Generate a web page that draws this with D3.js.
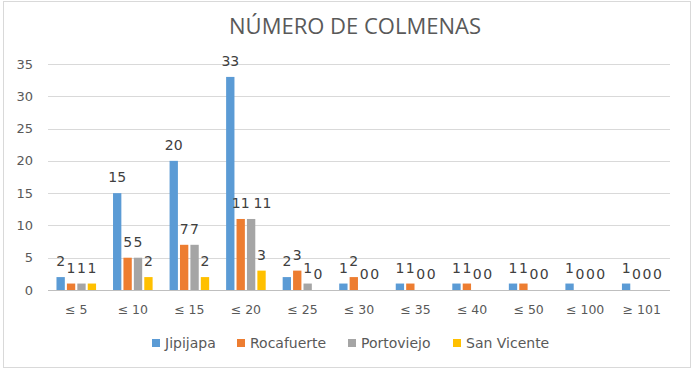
<!DOCTYPE html>
<html>
<head>
<meta charset="utf-8">
<script src="https://cdn.jsdelivr.net/npm/d3@7"></script>
<style>
  body { margin: 0; background: #fff; }
  text { font-family: "DejaVu Sans", Verdana, sans-serif; }
  .title { font-family: "Open Sans", "Liberation Sans", sans-serif; }
</style>
</head>
<body>
<script>
// chart data
const categories = ["≤ 5", "≤ 10", "≤ 15", "≤ 20", "≤ 25", "≤ 30", "≤ 35", "≤ 40", "≤ 50", "≤ 100", "≥ 101"];
const seriesNames = ["Jipijapa", "Rocafuerte", "Portoviejo", "San Vicente"];
const jipijapa   = [2, 15, 20, 33, 2, 1, 1, 1, 1, 1, 1];
const rocafuerte = [1, 5, 7, 11, 3, 2, 1, 1, 1, 0, 0];
const portoviejo = [1, 5, 7, 11, 1, 0, 0, 0, 0, 0, 0];
const sanVicente = [1, 2, 2, 3, 0, 0, 0, 0, 0, 0, 0];
const yTicks = [0, 5, 10, 15, 20, 25, 30, 35];
const colors = ["#5B9BD5", "#ED7D31", "#A5A5A5", "#FFC000"];

const allSeries = [jipijapa, rocafuerte, portoviejo, sanVicente];

var width = 697, height = 369;
var svg = d3.select("body").append("svg")
    .attr("width", width)
    .attr("height", height);

// outer frame
svg.append("rect")
    .attr("x", 3.5).attr("y", 1.5)
    .attr("width", 687).attr("height", 366)
    .attr("fill", "#fff")
    .attr("stroke", "#d9d9d9");

// title
svg.append("text")
    .attr("class", "title")
    .attr("x", 355).attr("y", 34)
    .attr("text-anchor", "middle")
    .attr("font-size", 22)
    .attr("fill", "#595959")
    .text("NÚMERO DE COLMENAS");

var x0 = d3.scaleBand()
    .domain(categories)
    .range([48, 670])
    .paddingInner(0.3)
    .paddingOuter(0.15);

var x1 = d3.scaleBand()
    .domain(d3.range(seriesNames.length))
    .range([0, x0.bandwidth()])
    .paddingInner(0.2);

var y = d3.scaleLinear()
    .domain([0, 35])
    .range([290, 64]);

// gridlines
svg.append("g")
    .selectAll("line")
    .data(yTicks)
    .enter().append("line")
    .attr("x1", 48).attr("x2", 670)
    .attr("y1", d => Math.round(y(d)) + 0.5)
    .attr("y2", d => Math.round(y(d)) + 0.5)
    .attr("stroke", d => d === 0 ? "#bfbfbf" : "#d9d9d9")
    .attr("stroke-width", 1);

// y tick labels
svg.append("g")
    .selectAll("text")
    .data(yTicks)
    .enter().append("text")
    .attr("x", 33)
    .attr("y", d => y(d))
    .attr("dy", "0.35em")
    .attr("text-anchor", "end")
    .attr("font-size", 13)
    .attr("fill", "#595959")
    .text(d => d);

// x labels
svg.append("g")
    .selectAll("text")
    .data(categories)
    .enter().append("text")
    .attr("x", d => x0(d) + x0.bandwidth() / 2)
    .attr("y", 314)
    .attr("text-anchor", "middle")
    .attr("font-size", 12.5)
    .attr("fill", "#595959")
    .text(d => d);

// bars
var groups = svg.append("g")
    .selectAll("g")
    .data(categories)
    .enter().append("g")
    .attr("transform", d => "translate(" + x0(d) + ",0)");

groups.selectAll("rect")
    .data((c, ci) => allSeries.map((s, si) => ({ si: si, v: s[ci] })))
    .enter().append("rect")
    .attr("x", d => x1(d.si))
    .attr("width", x1.bandwidth())
    .attr("y", d => y(d.v))
    .attr("height", d => y(0) - y(d.v))
    .attr("fill", d => colors[d.si]);

// data labels, pushed right when they collide with the previous one
groups.each(function(c, ci) {
    var g = d3.select(this);
    var prev = null;
    allSeries.forEach(function(s, si) {
        var v = s[ci];
        var cx = x1(si) + x1.bandwidth() / 2;
        var by = y(v) - 11;
        var t = g.append("text")
            .attr("y", by)
            .attr("text-anchor", "middle")
            .attr("font-size", 14)
            .attr("fill", "#404040")
            .text(v);
        var w = t.node().getComputedTextLength();
        if (prev && Math.abs(prev.y - by) < 10 && cx - w / 2 < prev.right - 1) {
            cx = prev.right + 4 + w / 2;
        }
        t.attr("x", cx);
        prev = { y: by, right: cx + w / 2 };
    });
});

// legend
var legendX = [152, 237, 348, 453];
var legend = svg.append("g")
    .selectAll("g")
    .data(seriesNames)
    .enter().append("g")
    .attr("transform", (d, i) => "translate(" + legendX[i] + ",343)");

legend.append("rect")
    .attr("x", 0).attr("y", -4)
    .attr("width", 8).attr("height", 8)
    .attr("fill", (d, i) => colors[i]);

legend.append("text")
    .attr("x", 13).attr("y", 0)
    .attr("dy", "0.35em")
    .attr("font-size", 14)
    .attr("fill", "#595959")
    .text(d => d);
</script>
</body>
</html>
